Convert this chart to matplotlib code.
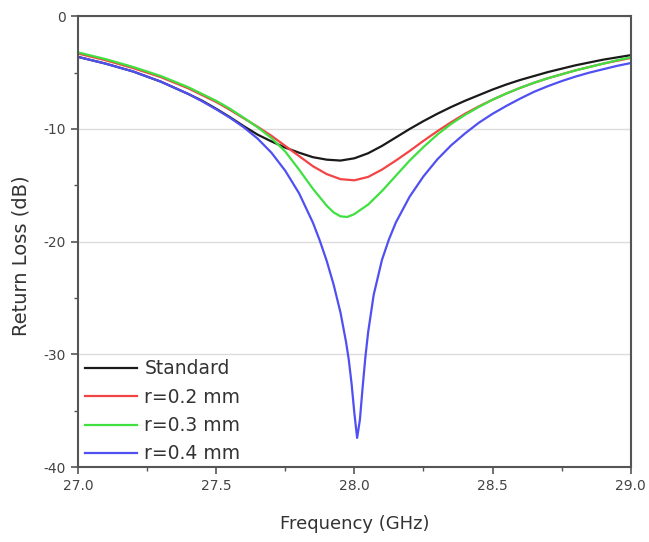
import matplotlib
matplotlib.use("Agg")
import matplotlib.pyplot as plt
from matplotlib.ticker import MultipleLocator

plt.rcParams['font.family'] = ['DejaVu Sans']

# --- data ---
f_std = [27.00, 27.05, 27.10, 27.15, 27.20, 27.25, 27.30, 27.35, 27.40, 27.45, 27.50, 27.55,
         27.60, 27.65, 27.70, 27.75, 27.80, 27.85, 27.90, 27.95, 28.00, 28.05, 28.10, 28.15,
         28.20, 28.25, 28.30, 28.35, 28.40, 28.45, 28.50, 28.55, 28.60, 28.65, 28.70, 28.75,
         28.80, 28.85, 28.90, 28.95, 29.00]
rl_std = [-3.6, -3.9, -4.2, -4.55, -4.9, -5.35, -5.8, -6.35, -6.9, -7.5, -8.2, -8.95,
          -9.75, -10.5, -11.1, -11.65, -12.1, -12.5, -12.72, -12.8, -12.6, -12.15, -11.5, -10.75,
          -10.0, -9.3, -8.65, -8.05, -7.5, -7.0, -6.5, -6.05, -5.65, -5.3, -4.95, -4.65,
          -4.35, -4.1, -3.85, -3.65, -3.45]

f_r02 = [27.00, 27.05, 27.10, 27.15, 27.20, 27.25, 27.30, 27.35, 27.40, 27.45, 27.50, 27.55,
         27.60, 27.65, 27.70, 27.75, 27.80, 27.85, 27.90, 27.95, 28.00, 28.05, 28.10, 28.15,
         28.20, 28.25, 28.30, 28.35, 28.40, 28.45, 28.50, 28.55, 28.60, 28.65, 28.70, 28.75,
         28.80, 28.85, 28.90, 28.95, 29.00]
rl_r02 = [-3.3, -3.6, -3.9, -4.25, -4.6, -5.0, -5.4, -5.9, -6.4, -7.0, -7.6, -8.3,
          -9.05, -9.8, -10.6, -11.5, -12.4, -13.3, -14.0, -14.45, -14.55, -14.25, -13.6, -12.8,
          -11.95, -11.05, -10.2, -9.4, -8.65, -8.0, -7.4, -6.85, -6.35, -5.9, -5.5, -5.15,
          -4.8, -4.5, -4.2, -3.95, -3.7]

f_r03 = [27.00, 27.05, 27.10, 27.15, 27.20, 27.25, 27.30, 27.35, 27.40, 27.45, 27.50, 27.55,
         27.60, 27.65, 27.70, 27.75, 27.80, 27.85, 27.90, 27.925, 27.95, 27.975, 28.00, 28.05,
         28.10, 28.15, 28.20, 28.25, 28.30, 28.35, 28.40, 28.45, 28.50, 28.55, 28.60, 28.65,
         28.70, 28.75, 28.80, 28.85, 28.90, 28.95, 29.00]
rl_r03 = [-3.2, -3.5, -3.8, -4.15, -4.5, -4.9, -5.3, -5.8, -6.3, -6.9, -7.5, -8.2,
          -9.0, -9.85, -10.8, -12.0, -13.6, -15.3, -16.8, -17.4, -17.75, -17.8, -17.55, -16.7,
          -15.5, -14.15, -12.8, -11.6, -10.5, -9.55, -8.75, -8.05, -7.4, -6.85, -6.35, -5.9,
          -5.5, -5.15, -4.8, -4.5, -4.2, -3.9, -3.65]

f_r04 = [27.00, 27.05, 27.10, 27.15, 27.20, 27.25, 27.30, 27.35, 27.40, 27.45, 27.50, 27.55,
         27.60, 27.65, 27.70, 27.75, 27.80, 27.85, 27.875, 27.90, 27.925, 27.95, 27.97, 27.98,
         27.99, 28.00, 28.01, 28.02, 28.03, 28.04, 28.05, 28.07, 28.10, 28.125, 28.15, 28.20,
         28.25, 28.30, 28.35, 28.40, 28.45, 28.50, 28.55, 28.60, 28.65, 28.70, 28.75, 28.80,
         28.85, 28.90, 28.95, 29.00]
rl_r04 = [-3.6, -3.9, -4.2, -4.55, -4.9, -5.35, -5.8, -6.35, -6.9, -7.55, -8.25, -9.0,
          -9.85, -10.85, -12.1, -13.7, -15.7, -18.3, -19.9, -21.7, -23.8, -26.3, -28.9, -30.5,
          -32.6, -35.2, -37.4, -35.8, -32.9, -30.2, -28.0, -24.7, -21.6, -19.8, -18.3, -16.0,
          -14.2, -12.7, -11.45, -10.4, -9.45, -8.65, -7.95, -7.3, -6.7, -6.2, -5.75, -5.35,
          -5.0, -4.7, -4.4, -4.15]

labels = ["Standard", "r=0.2 mm", "r=0.3 mm", "r=0.4 mm"]
colors = ["#1a1a1a", "#f24444", "#40e040", "#5050f2"]

x_ticks = [27.0, 27.5, 28.0, 28.5, 29.0]
x_ticklabels = ["27.0", "27.5", "28.0", "28.5", "29.0"]
y_ticks = [0, -10, -20, -30, -40]
y_ticklabels = ["0", "-10", "-20", "-30", "-40"]

fig = plt.figure(figsize=(6.49, 5.42), dpi=100)
ax = fig.add_axes([0.120, 0.138, 0.852, 0.832])

series = [(f_std, rl_std), (f_r02, rl_r02), (f_r03, rl_r03), (f_r04, rl_r04)]
for (fx, ry), lab, c in zip(series, labels, colors):
    ax.plot(fx, ry, color=c, lw=1.6, label=lab)

ax.set_xlim(27.0, 29.0)
ax.set_ylim(-40, 0)
ax.set_xticks(x_ticks)
ax.set_xticklabels(x_ticklabels)
ax.set_yticks(y_ticks)
ax.set_yticklabels(y_ticklabels)
ax.xaxis.set_minor_locator(MultipleLocator(0.25))
ax.yaxis.set_minor_locator(MultipleLocator(5))

ax.grid(axis='y', which='major', color='#dcdcdc', lw=1.0)
ax.set_axisbelow(True)

for s in ax.spines.values():
    s.set_color('#555555')
    s.set_linewidth(1.5)

ax.tick_params(axis='both', which='major', direction='out', length=5, width=1.2,
               color='#555555', labelsize=10, labelcolor='#444444')
ax.tick_params(axis='both', which='minor', direction='out', length=3, width=1.0, color='#555555')

ax.set_xlabel("Frequency (GHz)", fontsize=13, color='#333333', labelpad=16)
ax.set_ylabel("Return Loss (dB)", fontsize=14, color='#333333', labelpad=7)
ax.yaxis.set_label_coords(-0.086, 0.47)

leg = ax.legend(loc='lower left', frameon=False, fontsize=13.5, handlelength=2.8,
                handletextpad=0.37, labelspacing=0.5, borderaxespad=0.0,
                borderpad=0.2, bbox_to_anchor=(0.006, 0.0))
for t in leg.get_texts():
    t.set_color('#333333')

fig.savefig("out.png", dpi=100)
